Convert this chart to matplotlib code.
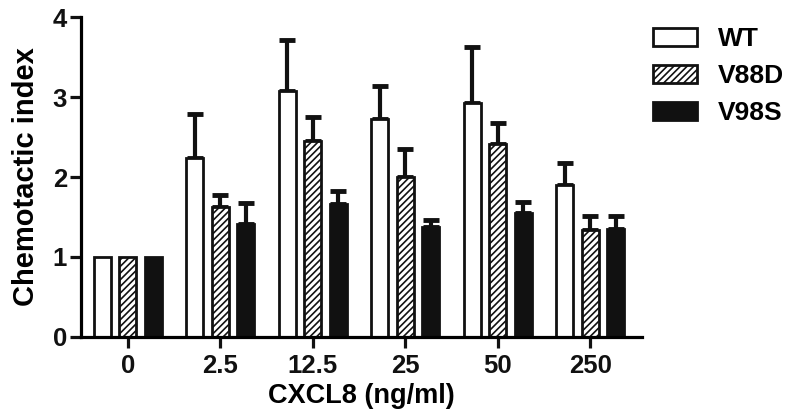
import numpy as np
import matplotlib
matplotlib.use("Agg")
from matplotlib import pyplot as plt

plt.rcParams['font.family'] = ['Liberation Sans', 'DejaVu Sans']
plt.rcParams['font.weight'] = 'bold'
plt.rcParams['hatch.linewidth'] = 1.2

categories = ['0', '2.5', '12.5', '25', '50', '250']
series = ['WT', 'V88D', 'V98S']
wt = [1.0, 2.24, 3.08, 2.73, 2.92, 1.90]
wt_err = [0.0, 0.55, 0.64, 0.41, 0.71, 0.28]
v88d = [1.0, 1.63, 2.45, 2.00, 2.41, 1.34]
v88d_err = [0.0, 0.15, 0.30, 0.35, 0.26, 0.17]
v98s = [1.0, 1.41, 1.66, 1.37, 1.55, 1.35]
v98s_err = [0.0, 0.27, 0.17, 0.09, 0.14, 0.16]

fig = plt.figure(figsize=(8, 4.19), dpi=100)
ax = fig.add_axes([0.101, 0.196, 0.7015, 0.763])

x = np.arange(len(categories))
w = 0.185
off = 0.275
styles = [dict(facecolor='white', hatch=None),
          dict(facecolor='white', hatch='/////'),
          dict(facecolor='#111111', hatch=None)]
for i, (vals, errs, name) in enumerate(zip([wt, v88d, v98s], [wt_err, v88d_err, v98s_err], series)):
    pos = x + (i - 1) * off
    ax.bar(pos, vals, width=w, edgecolor='#111111', linewidth=2.0,
           label=name, zorder=2, **styles[i])
    e = np.array(errs)
    ax.errorbar(pos[e > 0], np.array(vals)[e > 0],
                yerr=[np.zeros((e > 0).sum()), e[e > 0]],
                fmt='none', ecolor='#111111', elinewidth=3, capsize=6,
                capthick=3.5, zorder=1)

ax.set_xlim(-0.509, 5.56)
ax.set_ylim(0, 4)
ax.set_yticks([0, 1, 2, 3, 4])
ax.set_xticks(x)
ax.set_xticklabels(categories)
for s in ['top', 'right']:
    ax.spines[s].set_visible(False)
for s in ['left', 'bottom']:
    ax.spines[s].set_linewidth(2.3)
ax.tick_params(width=2.3, length=8, labelsize=18.5, colors='#111111')
ax.tick_params(axis='y', pad=2)
ax.tick_params(axis='x', pad=4)
ax.set_ylabel('Chemotactic index', fontsize=21, fontweight='bold', labelpad=9)
ax.set_xlabel('CXCL8 (ng/ml)', fontsize=19.5, fontweight='bold', labelpad=4)

leg = ax.legend(loc='upper left', bbox_to_anchor=(653 / 800, 1 - 27 / 419),
                bbox_transform=fig.transFigure, frameon=False,
                fontsize=19, handlelength=1.65, handleheight=0.66,
                handletextpad=0.8, labelspacing=0.5, borderpad=0,
                borderaxespad=0)

fig.savefig('out.png', dpi=100)
